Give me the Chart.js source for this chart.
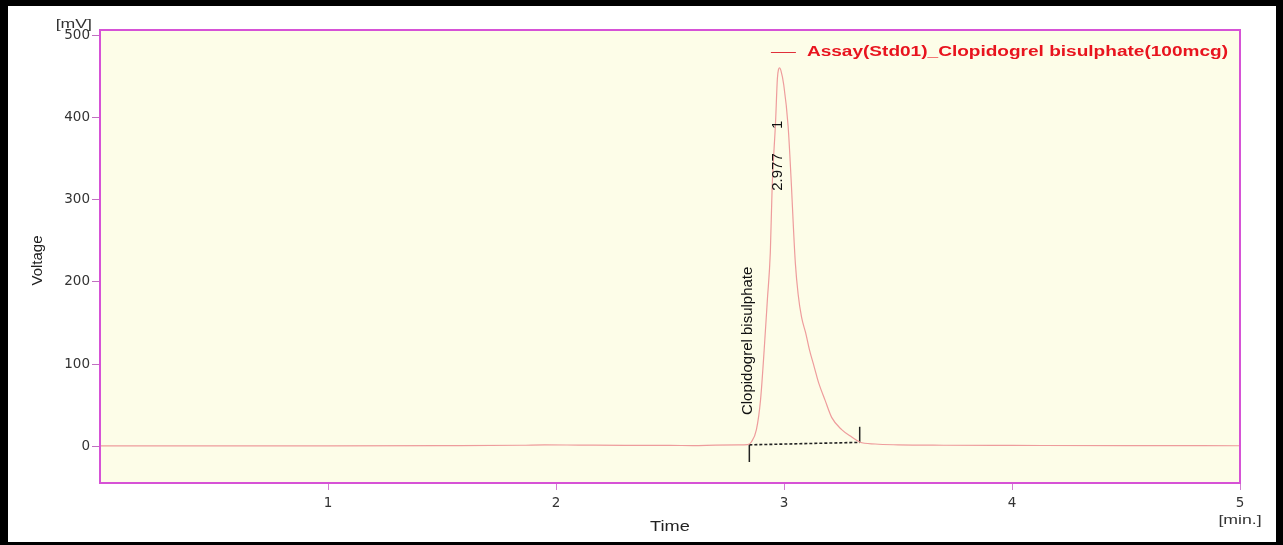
<!DOCTYPE html>
<html>
<head>
<meta charset="utf-8">
<script src="https://cdn.jsdelivr.net/npm/chart.js@4.4.1/dist/chart.umd.min.js"></script>
<style>
  html, body { margin: 0; padding: 0; background: #ffffff; }
  #wrap { width: 1283px; height: 545px; }
</style>
</head>
<body>
<div id="wrap"><canvas id="c" width="1283" height="545"></canvas></div>
<script>
// ---- data ----
const seriesName = 'Assay(Std01)_Clopidogrel bisulphate(100mcg)';
const timeMin = [0, 0.5, 1.0, 1.5, 1.85, 1.95, 2.1, 2.3, 2.5, 2.6, 2.7, 2.8, 2.84,
  2.857, 2.879, 2.897, 2.913, 2.927, 2.940, 2.948, 2.963, 2.971, 2.976, 2.981, 2.986,
  2.999, 3.018, 3.033, 3.041, 3.050, 3.062, 3.077, 3.095, 3.112, 3.133, 3.152, 3.180,
  3.209, 3.253, 3.297, 3.332, 3.40, 3.50, 3.70, 4.0, 4.5, 5.0];
const voltage_mV = [0.3, 0.3, 0.3, 0.5, 1.0, 1.5, 1.2, 0.8, 0.8, 0.6, 1.2, 1.5, 1.8,
  5, 20, 56, 117, 178, 236, 315, 395, 448, 459, 461, 458,
  440, 390, 315, 268, 222, 185, 157, 138, 117, 96, 77, 56,
  35, 20, 11, 5, 2.5, 1.5, 1.0, 0.8, 0.5, 0.4];
const xTickValues = [1, 2, 3, 4, 5];
const yTickValues = [0, 100, 200, 300, 400, 500];
const peakRetention = [2.977];
const peakNumber = ['1'];
const peakName = ['Clopidogrel bisulphate'];
const baselineTimes = [2.848, 3.332];
const baselineValues = [1.5, 4.5];

// ---- styling / layout constants ----
const MARK = 21;           // length of peak start/end markers (mV)
const STRETCH = 1.36;      // horizontal text stretch seen in the reference
const TRACE = '#ee9c9c';
const FRAME = '#d652d6';

function textAt(ctx, txt, x, y, font, color, align, baseline, sx, rot) {
  ctx.save();
  ctx.translate(x, y);
  ctx.scale(sx, 1);
  if (rot) ctx.rotate(rot);
  ctx.font = font;
  ctx.fillStyle = color;
  ctx.textAlign = align;
  ctx.textBaseline = baseline;
  ctx.fillText(txt, 0, 0);
  ctx.restore();
}

const decor = {
  id: 'decor',
  beforeDraw(chart) {
    const { ctx, chartArea: a } = chart;
    ctx.save();
    ctx.fillStyle = '#ffffff';
    ctx.fillRect(0, 0, chart.width, chart.height);
    ctx.fillStyle = '#fdfde8';
    ctx.fillRect(a.left, a.top, a.right - a.left, a.bottom - a.top);
    ctx.restore();
  },
  afterDatasetsDraw(chart) {
    const { ctx, chartArea: a, scales: { x, y } } = chart;
    // plot frame
    ctx.save();
    ctx.strokeStyle = FRAME;
    ctx.lineWidth = 2;
    ctx.strokeRect(a.left, a.top, a.right - a.left, a.bottom - a.top);
    ctx.restore();

    // peak annotations
    const apexPx = y.getPixelForValue(Math.max(...voltage_mV));
    peakRetention.forEach((rt, i) => {
      const px = x.getPixelForValue(rt);
      textAt(ctx, peakName[i], px - 31, y.getPixelForValue(0) - 31,
        '15px "Liberation Sans", Arial, sans-serif', '#111', 'left', 'middle', 1, -Math.PI / 2);
      textAt(ctx, rt.toFixed(3), px - 1, apexPx + 123,
        '15px "Liberation Sans", Arial, sans-serif', '#111', 'left', 'middle', 1, -Math.PI / 2);
      textAt(ctx, peakNumber[i], px - 1, apexPx + 57,
        '15px "Liberation Sans", Arial, sans-serif', '#111', 'center', 'middle', 1, -Math.PI / 2);
    });

    // legend
    const legFont = 'bold 14px "Liberation Sans", Arial, sans-serif';
    ctx.save();
    ctx.font = legFont;
    const w = ctx.measureText(seriesName).width * STRETCH;
    ctx.restore();
    const tx = a.right - 12 - w;
    const ly = a.top + 22;
    ctx.save();
    ctx.strokeStyle = '#e0303a';
    ctx.lineWidth = 1;
    ctx.beginPath();
    ctx.moveTo(tx - 36, ly + 0.5);
    ctx.lineTo(tx - 11, ly + 0.5);
    ctx.stroke();
    ctx.restore();
    textAt(ctx, seriesName, tx, ly, legFont, '#e8141e', 'left', 'middle', STRETCH, 0);

    // axis titles and units
    const tf = '14px "Liberation Sans", Arial, sans-serif';
    textAt(ctx, 'Voltage', 38, (a.top + a.bottom) / 2 + 4, '15px "Liberation Sans", Arial, sans-serif', '#222', 'center', 'middle', 1, -Math.PI / 2);
    textAt(ctx, '[mV]', a.left - 8, a.top - 6, '13px "Liberation Sans", Arial, sans-serif', '#333', 'right', 'middle', STRETCH, 0);
    textAt(ctx, 'Time', (a.left + a.right) / 2, 527, tf, '#222', 'center', 'middle', 1.3, 0);
    textAt(ctx, '[min.]', a.right, 520, '13px "Liberation Sans", Arial, sans-serif', '#333', 'center', 'middle', STRETCH, 0);
  },
  afterDraw(chart) {
    const { ctx } = chart;
    ctx.save();
    ctx.fillStyle = '#000000';
    ctx.fillRect(0, 0, chart.width, 6);
    ctx.fillRect(0, 0, 8, chart.height);
    ctx.fillRect(chart.width - 7, 0, 7, chart.height);
    ctx.fillRect(0, chart.height - 3, chart.width, 3);
    ctx.restore();
  }
};

const pts = (xs, ys) => xs.map((v, i) => ({ x: v, y: ys[i] }));

new Chart(document.getElementById('c'), {
  type: 'line',
  data: {
    datasets: [
      {
        label: seriesName,
        data: pts(timeMin, voltage_mV),
        borderColor: TRACE,
        borderWidth: 1.2,
        pointRadius: 0,
        cubicInterpolationMode: 'monotone',
        fill: false
      },
      {
        label: 'baseline',
        data: pts(baselineTimes, baselineValues),
        borderColor: '#222',
        borderWidth: 1.6,
        borderDash: [3, 2],
        pointRadius: 0
      },
      {
        label: 'start',
        data: [{ x: baselineTimes[0], y: baselineValues[0] }, { x: baselineTimes[0], y: baselineValues[0] - MARK }],
        borderColor: '#222',
        borderWidth: 1.5,
        pointRadius: 0
      },
      {
        label: 'end',
        data: [{ x: baselineTimes[1], y: baselineValues[1] }, { x: baselineTimes[1], y: baselineValues[1] + MARK - 2 }],
        borderColor: '#222',
        borderWidth: 1.5,
        pointRadius: 0
      }
    ]
  },
  options: {
    responsive: false,
    devicePixelRatio: 1,
    animation: false,
    layout: { padding: { left: 0, top: 30, right: 43, bottom: 0 } },
    plugins: { legend: { display: false }, tooltip: { enabled: false } },
    scales: {
      x: {
        type: 'linear',
        min: 0,
        max: 5,
        afterBuildTicks: s => { s.ticks = xTickValues.map(v => ({ value: v })); },
        afterFit: s => { s.height = 62; },
        border: { display: false },
        grid: { drawOnChartArea: false, tickLength: 7, color: '#d080d0' },
        ticks: {
          color: '#333',
          padding: 5,
          maxRotation: 0,
          autoSkip: false,
          font: { family: '"DejaVu Sans", sans-serif', size: 13.5 },
          callback: v => String(v)
        }
      },
      y: {
        type: 'linear',
        min: -45,
        max: 507,
        afterBuildTicks: s => { s.ticks = yTickValues.map(v => ({ value: v })); },
        afterFit: s => { s.width = 100; },
        border: { display: false },
        grid: { drawOnChartArea: false, tickLength: 8, color: '#c070c0' },
        ticks: {
          color: '#333',
          padding: 2,
          autoSkip: false,
          font: { family: '"DejaVu Sans", sans-serif', size: 13.5 },
          callback: v => String(v)
        }
      }
    }
  },
  plugins: [decor]
});
</script>
</body>
</html>
